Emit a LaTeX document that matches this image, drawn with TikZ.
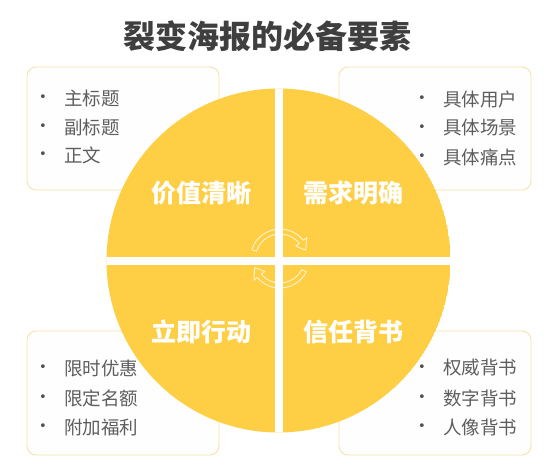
\documentclass[tikz,border=0pt]{standalone}
\usepackage{fontspec}
\newfontfamily\cjk{Noto Sans CJK SC}
\newfontfamily\dejavu{DejaVu Sans}
\definecolor{qyellow}{HTML}{FECF45}
\definecolor{boxline}{HTML}{F6E3A8}
\definecolor{boxfill}{HTML}{FEFEFE}
\definecolor{txtgray}{HTML}{5E5E5E}
\definecolor{titlegray}{HTML}{3F3F3F}
\begin{document}
\begin{tikzpicture}[x=1bp,y=-1bp,
  infobox/.style={draw=boxline,fill=boxfill,line width=0.9bp,rounded corners=9bp},
  item/.style={anchor=west,inner sep=0pt,font=\cjk\fontsize{18.5bp}{20bp}\selectfont,text=txtgray},
  dot/.style={inner sep=0pt,font=\dejavu\fontsize{13bp}{13bp}\selectfont,text=txtgray!85!black},
  qlabel/.style={inner sep=0pt,font=\cjk\bfseries\fontsize{25bp}{27bp}\selectfont,text=white},
  cyc/.style={draw=white,draw opacity=0.75,line width=0.9bp,line join=round}]
\useasboundingbox (0,0) rectangle (550,466);
\fill[white] (0,0) rectangle (550,466);
% title
\node[inner sep=0pt,font=\cjk\bfseries\fontsize{32bp}{34bp}\selectfont,text=titlegray] (title) at (267,36) {裂变海报的必备要素};
% boxes
\draw[infobox] (27,67) rectangle (219,190);
\draw[infobox] (339,67) rectangle (531,190);
\draw[infobox] (27,331) rectangle (219,455);
\draw[infobox] (339,331) rectangle (531,455);
% box texts
\foreach \t/\y [count=\i] in {主标题/98,副标题/127,正文/155}{
  \node[dot] (tlb\i) at (43,\y) {•};
  \node[item] (tl\i) at (64,\y) {\t};
}
\foreach \t/\y [count=\i] in {具体用户/99,具体场景/128,具体痛点/157}{
  \node[dot] (trb\i) at (422,\y) {•};
  \node[item] (tr\i) at (443,\y) {\t};
}
\foreach \t/\y [count=\i] in {限时优惠/368,限定名额/398,附加福利/427}{
  \node[dot] (blb\i) at (43,\y) {•};
  \node[item] (bl\i) at (64,\y) {\t};
}
\foreach \t/\y [count=\i] in {权威背书/368,数字背书/398,人像背书/427}{
  \node[dot] (brb\i) at (422,\y) {•};
  \node[item] (br\i) at (443,\y) {\t};
}
% circle split into quarters
\begin{scope}
  \clip (278.5,260.5) circle (172);
  \fill[qyellow] (278.5,260.5) circle (172);
  \fill[white] (275,80) rectangle (282.5,440);
  \fill[white] (100,257) rectangle (460,264.5);
\end{scope}
% cycle arrows
\begin{scope}[shift={(280,258.5)},yscale=-1]
  \draw[cyc] (163:29.5) arc[start angle=163,end angle=38,radius=29.5]
    -- (38:34) -- (18:27) -- (38:20) -- (38:24.5)
    arc[start angle=38,end angle=163,radius=24.5] -- cycle;
  \draw[cyc] (-27:29.5) arc[start angle=-27,end angle=-140,radius=29.5]
    -- (-140:34) -- (-160:27) -- (-140:20) -- (-140:24.5)
    arc[start angle=-140,end angle=-27,radius=24.5] -- cycle;
\end{scope}
% quadrant labels
\node[qlabel] (q1) at (201,193) {价值清晰};
\node[qlabel] (q2) at (353,193) {需求明确};
\node[qlabel] (q3) at (201,332) {立即行动};
\node[qlabel] (q4) at (353,332) {信任背书};
\end{tikzpicture}
\end{document}
